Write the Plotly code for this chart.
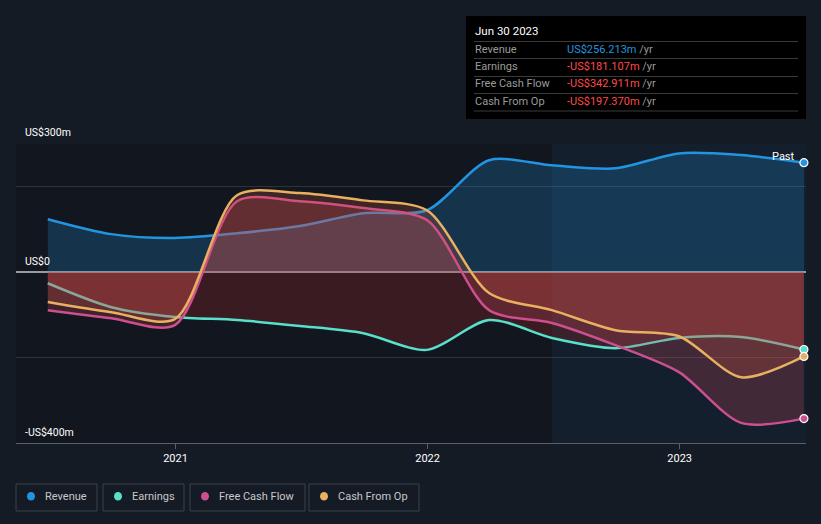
import plotly.graph_objects as go

dates = ["2020-06-30", "2020-09-30", "2020-12-31", "2021-03-31", "2021-06-30",
         "2021-09-30", "2021-12-31", "2022-03-31", "2022-06-30", "2022-09-30",
         "2022-12-31", "2023-03-31", "2023-06-30"]
revenue = [124, 89, 80, 91, 108, 138, 145, 262, 250, 243, 278, 274, 256.213]
earnings = [-26, -82, -105, -112, -126, -143, -182, -112, -154, -178, -154, -152, -181.107]
fcf = [-89, -108, -124, 166, 166, 150, 122, -89, -119, -171, -234, -353, -342.911]
cfo = [-70, -94, -110, 180, 185, 168, 145, -49, -89, -136, -150, -246, -197.370]

series = [
    ("Revenue", revenue, "#2394df", "rgba(35,148,223,0.24)"),
    ("Earnings", earnings, "#58e0cb", "rgba(200,45,50,0.22)"),
    ("Free Cash Flow", fcf, "#cd4f8f", "rgba(205,70,90,0.25)"),
    ("Cash From Op", cfo, "#e8b061", "rgba(220,90,70,0.22)"),
]

W, H = 821, 524
L, R, T, B = 16, 806, 144, 443


def px(x):
    return (x - L) / (R - L)


def py(y):
    return (B - y) / (B - T)


fig = go.Figure()

for name, vals, color, fillc in series:
    fig.add_trace(go.Scatter(
        x=dates, y=vals, mode="lines", name=name,
        line=dict(color=color, width=2.5, shape="spline", smoothing=0.8),
        fill="tozeroy", fillcolor=fillc, showlegend=False, hoverinfo="skip"))

for name, vals, color, fillc in series:
    fig.add_trace(go.Scatter(
        x=[dates[-1]], y=[vals[-1]], mode="markers",
        marker=dict(size=8, color=color, line=dict(color="white", width=1.2)),
        showlegend=False, hoverinfo="skip", cliponaxis=False))

shapes = []
annotations = []

# past shading
shapes.append(dict(type="rect", xref="x", yref="paper", x0="2022-06-30", x1="2023-07-04",
                   y0=0, y1=1, fillcolor="rgba(30,70,110,0.18)", line=dict(width=0), layer="below"))

# tooltip box
shapes.append(dict(type="rect", xref="paper", yref="paper", x0=px(466), x1=px(806),
                   y0=py(119), y1=py(16), fillcolor="#000000", line=dict(width=0)))
for yy in [41.5, 58.5, 76.5, 93.5, 111]:
    shapes.append(dict(type="line", xref="paper", yref="paper", x0=px(474), x1=px(798),
                       y0=py(yy), y1=py(yy), line=dict(color="#3a3a3a", width=1)))
annotations.append(dict(xref="paper", yref="paper", x=px(473), y=py(31), text="Jun 30 2023",
                        showarrow=False, xanchor="left", yanchor="middle",
                        font=dict(color="white", size=11.5, family="Roboto")))
rows = [("Revenue", "US$256.213m", "#2394df"),
        ("Earnings", "-US$181.107m", "#ff4a4a"),
        ("Free Cash Flow", "-US$342.911m", "#ff4a4a"),
        ("Cash From Op", "-US$197.370m", "#ff4a4a")]
for (lab, val, col), yy in zip(rows, [49.5, 66.5, 84, 101]):
    annotations.append(dict(xref="paper", yref="paper", x=px(473), y=py(yy), text=lab,
                            showarrow=False, xanchor="left", yanchor="middle",
                            font=dict(color="#9a9a9a", size=11, family="Roboto")))
    annotations.append(dict(xref="paper", yref="paper", x=px(565), y=py(yy),
                            text=f"<span style='color:{col}'>{val}</span> /yr",
                            showarrow=False, xanchor="left", yanchor="middle",
                            font=dict(color="#9a9a9a", size=11, family="Roboto")))

# y labels
for txt, yy in [("US$300m", 132), ("US$0", 261), ("-US$400m", 432)]:
    annotations.append(dict(xref="paper", yref="paper", x=px(23), y=py(yy), text=txt,
                            showarrow=False, xanchor="left", yanchor="middle",
                            font=dict(color="white", size=10.5, family="Roboto")))

annotations.append(dict(xref="paper", yref="paper", x=px(797), y=py(156), text="Past",
                        showarrow=False, xanchor="right", yanchor="middle",
                        font=dict(color="white", size=11, family="Roboto")))

# legend
legend_items = [("Revenue", "#2394df", 16, 97), ("Earnings", "#58e0cb", 103, 184),
                ("Free Cash Flow", "#cd4f8f", 190, 305), ("Cash From Op", "#e8b061", 309, 419)]
for lab, col, x0, x1 in legend_items:
    shapes.append(dict(type="rect", xref="paper", yref="paper", x0=px(x0), x1=px(x1),
                       y0=py(511), y1=py(484), line=dict(color="#3c424d", width=1),
                       fillcolor="rgba(0,0,0,0)"))
    shapes.append(dict(type="circle", xref="paper", yref="paper", x0=px(x0 + 11), x1=px(x0 + 19),
                       y0=py(500.5), y1=py(492), fillcolor=col, line=dict(width=0)))
    annotations.append(dict(xref="paper", yref="paper", x=px(x0 + 27), y=py(496), text=lab,
                            showarrow=False, xanchor="left", yanchor="middle",
                            font=dict(color="#c8c8c8", size=11, family="Roboto")))

fig.update_layout(
    width=W, height=H,
    margin=dict(l=L, r=W - R, t=T, b=H - B),
    paper_bgcolor="#151b25", plot_bgcolor="#12161e",
    shapes=shapes, annotations=annotations, showlegend=False,
    xaxis=dict(range=["2020-05-15", "2023-07-03"], tickvals=["2021-01-01", "2022-01-01", "2023-01-01"],
               ticktext=["2021", "2022", "2023"], showgrid=False, zeroline=False,
               showline=True, linecolor="#5a5f68", linewidth=1, ticks="outside", ticklen=5,
               tickcolor="#5a5f68", tickfont=dict(color="white", size=11, family="Roboto")),
    yaxis=dict(range=[-400, 300], tickvals=[-400, -200, 0, 200, 300], showticklabels=False,
               gridcolor="rgba(255,255,255,0.12)", zeroline=True, zerolinecolor="#9a9a9a",
               zerolinewidth=1.5, fixedrange=True),
)

fig.write_html("out.html", config={"displayModeBar": False},
               post_script="document.body.style.margin='0';document.body.style.background='#151b25';")
